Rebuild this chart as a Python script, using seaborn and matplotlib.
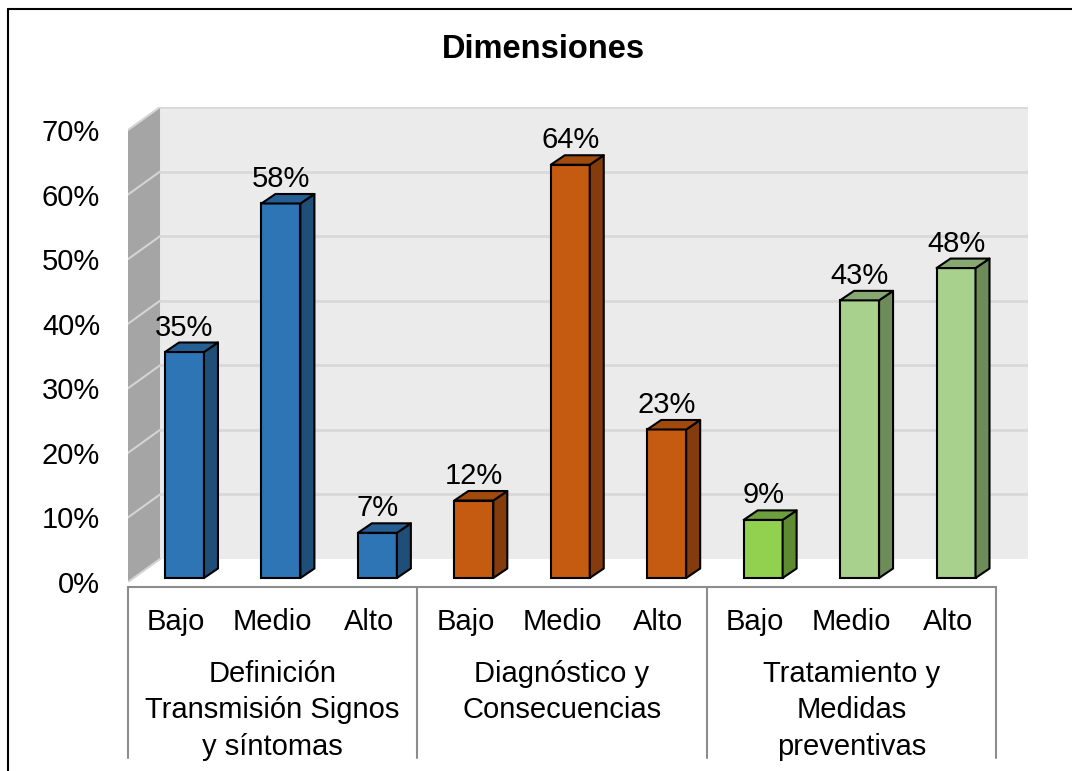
import numpy as np
import pandas as pd
import seaborn as sns
import matplotlib.pyplot as plt
from matplotlib.patches import Polygon, Rectangle
from matplotlib.lines import Line2D

# Datos
niveles = ['Bajo', 'Medio', 'Alto']
dimensiones = ['Definición\nTransmisión Signos\ny síntomas',
               'Diagnóstico y\nConsecuencias',
               'Tratamiento y\nMedidas\npreventivas']
valores = [35, 58, 7, 12, 64, 23, 9, 43, 48]
ticks_y = [0, 10, 20, 30, 40, 50, 60, 70]

# colores de cara frontal, lateral y superior
colores = ['#2E75B6'] * 3 + ['#C55A11'] * 3 + ['#92D050', '#A9D18E', '#A9D18E']
lados = ['#1F4E79'] * 3 + ['#843C0C'] * 3 + ['#5E8A31', '#6E8B5A', '#6E8B5A']
topes = ['#265F94'] * 3 + ['#A14A0E'] * 3 + ['#6E9E3E', '#88A872', '#88A872']

barras = [f'{d.split(chr(10))[0]} - {n}' for d in dimensiones for n in niveles]
df = pd.DataFrame({'barra': barras, 'valor': valores})

sns.set_style('white')
plt.rcParams['font.family'] = ['Liberation Sans', 'DejaVu Sans']
plt.rcParams['text.color'] = 'black'
FS = 21

fig = plt.figure(figsize=(10.72, 7.71), dpi=100)
W, H = 1072, 771
# caja del eje en pixeles (plano frontal 0% en y=582, fondo arriba y=107)
ax = fig.add_axes([128 / W, (H - 582) / H, 900 / W, 475 / H])
ax.set_facecolor('none')

XMAX = -0.5 + 900 / 96.44
YMAX = 475 / 6.457
DX, DY = 0.332, 3.56           # profundidad completa de las paredes
ox, oy = 0.086, 0.62           # posicion de las barras en profundidad
bdx, bdy = 0.145, 1.47         # profundidad de cada barra

# pared de fondo
ax.add_patch(Polygon([(-0.5 + DX, DY), (XMAX, DY), (XMAX, YMAX), (-0.5 + DX, YMAX)],
                     closed=True, facecolor='#EBEBEB', edgecolor='none', zorder=0))
for t in ticks_y[1:]:
    ax.plot([-0.5 + DX, XMAX], [t + DY, t + DY], color='#D9D9D9', lw=2, zorder=1)
# pared lateral
ax.add_patch(Polygon([(-0.5, 0), (-0.5 + DX, DY), (-0.5 + DX, YMAX), (-0.5, 70)],
                     closed=True, facecolor='#A5A5A5', edgecolor='none', zorder=1))
for t in ticks_y[1:]:
    ax.plot([-0.5, -0.5 + DX], [t, t + DY], color='#D4D4D4', lw=1.5, zorder=1)
# piso
ax.add_patch(Polygon([(-0.5, 0), (-0.5 + DX, DY), (XMAX, DY), (8.5, 0)],
                     closed=True, facecolor='white', edgecolor='none', zorder=1))
ax.plot([-0.5, -0.5 + DX], [0, DY], color='#D4D4D4', lw=1.5, zorder=1)

sns.barplot(data=df, x='barra', y='valor', hue='barra', palette=colores,
            width=0.404, saturation=1, legend=False, ax=ax,
            edgecolor='black', linewidth=1.5, zorder=3)

bars = sorted([p for p in ax.patches if isinstance(p, Rectangle)],
              key=lambda p: p.get_x())
for i, p in enumerate(bars):
    p.set_x(p.get_x() + ox)
    p.set_y(oy)
    p.set_zorder(3)
    x0 = p.get_x()
    x1 = x0 + p.get_width()
    y0 = oy
    y1 = oy + p.get_height()
    ax.add_patch(Polygon([(x1, y0), (x1 + bdx, y0 + bdy), (x1 + bdx, y1 + bdy), (x1, y1)],
                         closed=True, facecolor=lados[i], edgecolor='black', lw=1.5,
                         joinstyle='round', zorder=3))
    ax.add_patch(Polygon([(x0, y1), (x0 + bdx, y1 + bdy), (x1 + bdx, y1 + bdy), (x1, y1)],
                         closed=True, facecolor=topes[i], edgecolor='black', lw=1.5,
                         joinstyle='round', zorder=3))
    ax.annotate(f'{valores[i]}%', xy=((x0 + x1) / 2, y1 + bdy), xytext=(0, 5),
                textcoords='offset points', ha='center', va='baseline',
                fontsize=FS, color='black', zorder=4)

ax.set_xlim(-0.5, XMAX)
ax.set_ylim(0, YMAX)
ax.set_xticks([])
ax.set_xlabel('')
ax.set_ylabel('')
ax.set_yticks(ticks_y, [f'{t}%' for t in ticks_y])
ax.tick_params(axis='y', length=0, pad=20, labelsize=FS, labelcolor='black')
sns.despine(ax=ax, left=True, bottom=True)

# tabla de categorias bajo el eje
tr = ax.get_xaxis_transform()
gris = '#8C8C8C'
ax.plot([-0.5, 8.5], [-5 / 475, -5 / 475], color=gris, lw=1.5, transform=tr, clip_on=False)
for xv in [-0.5, 2.5, 5.5, 8.5]:
    ax.plot([xv, xv], [-5 / 475, -176 / 475], color=gris, lw=1.5, transform=tr, clip_on=False)
for i in range(9):
    ax.text(i, -40 / 475, niveles[i % 3], transform=tr, ha='center', va='center',
            fontsize=FS)
for j, d in enumerate(dimensiones):
    ax.text(3 * j + 1, -78 / 475, d, transform=tr, ha='center', va='top',
            fontsize=FS, linespacing=1.38)

fig.text(543 / W, 1 - 49 / H, 'Dimensiones', ha='center', va='center',
         fontsize=23.5, fontweight='bold', color='black')

# borde exterior
fig.add_artist(Line2D([8 / W, 8 / W], [0, 1 - 9 / H], color='black', lw=1.5))
fig.add_artist(Line2D([8 / W, 1], [1 - 9 / H, 1 - 9 / H], color='black', lw=1.5))

fig.savefig('out.png', dpi=100)
